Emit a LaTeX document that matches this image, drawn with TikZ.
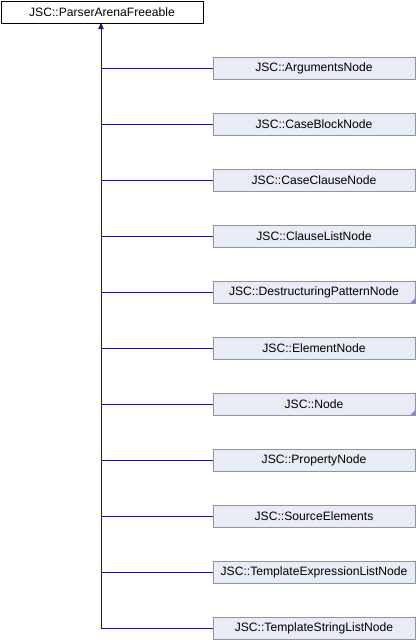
\documentclass[tikz,border=0pt]{standalone}
\usepackage{fontspec}
\setmainfont{Liberation Sans}
\usetikzlibrary{arrows.meta}
\definecolor{boxfill}{HTML}{E8ECF5}
\definecolor{boxdraw}{HTML}{7F95C6}
\definecolor{edgecol}{HTML}{191970}
\tikzset{
  cls/.style={draw=boxdraw, fill=boxfill, line width=0.75pt, minimum width=151.5pt, minimum height=16.5pt, inner sep=0pt, font=\fontsize{9.1pt}{11pt}\selectfont, anchor=center},
  basecls/.style={draw=black, fill=white, line width=0.75pt, minimum width=151.5pt, minimum height=16.5pt, inner sep=0pt, font=\fontsize{9.1pt}{11pt}\selectfont},
  more/.style={path picture={\fill[boxdraw] (path picture bounding box.south east) -- ++(-3.5pt,0) -- ++(3.5pt,3.5pt) -- cycle;}},
  edge/.style={draw=edgecol, line width=0.75pt},
}
\begin{document}
\begin{tikzpicture}[x=0.75pt,y=-0.75pt]
\useasboundingbox (0,0) rectangle (416,640);
\node[basecls] (base) at (102,12) {JSC::ParserArenaFreeable};
\coordinate (top) at (101,23);
\node[cls] (c1) at (314,68) {JSC::ArgumentsNode};
\node[cls] (c2) at (314,124) {JSC::CaseBlockNode};
\node[cls] (c3) at (314,180) {JSC::CaseClauseNode};
\node[cls] (c4) at (314,236) {JSC::ClauseListNode};
\node[cls,more] (c5) at (314,292) {JSC::DestructuringPatternNode};
\node[cls] (c6) at (314,348) {JSC::ElementNode};
\node[cls,more] (c7) at (314,404) {JSC::Node};
\node[cls] (c8) at (314,460) {JSC::PropertyNode};
\node[cls] (c9) at (314,516) {JSC::SourceElements};
\node[cls] (c10) at (314,572) {JSC::TemplateExpressionListNode};
\node[cls] (c11) at (314,628) {JSC::TemplateStringListNode};
\draw[edge,-{Triangle[length=4.5pt,width=4pt]}] (c11.west) -| (top);
\foreach \i in {1,...,10}{
  \draw[edge] (c\i.west) -- (c\i.west -| top);
}
\end{tikzpicture}
\end{document}
